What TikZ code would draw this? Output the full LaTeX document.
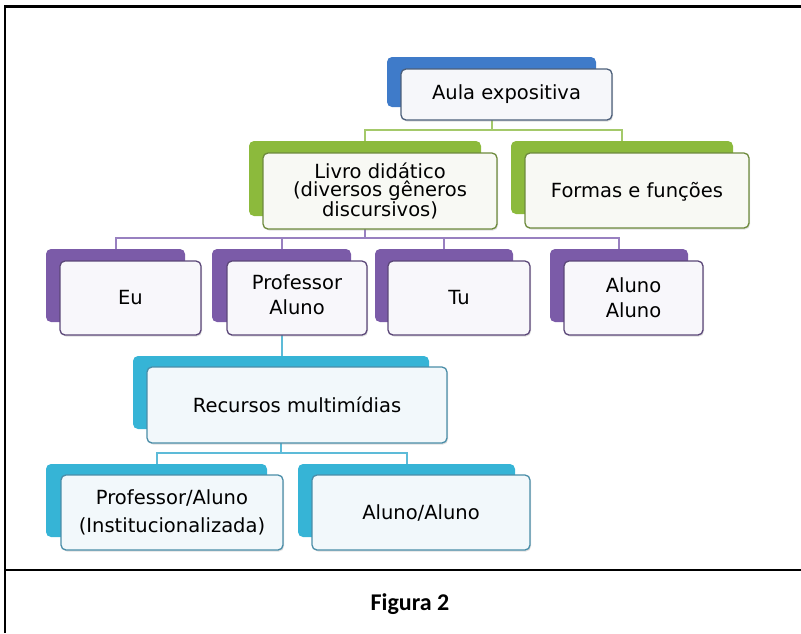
\documentclass[tikz,border=0pt]{standalone}
\usepackage{fontspec}
\setmainfont{DejaVu Sans}
\newfontfamily\capfont{Carlito}
\usetikzlibrary{fit,backgrounds,shadows}
\definecolor{blueback}{HTML}{3F7BC9}
\definecolor{blueline}{HTML}{4C5F7A}
\definecolor{bluefill}{HTML}{F6F7FA}
\definecolor{greenback}{HTML}{8CBA3C}
\definecolor{greenline}{HTML}{6D8A3C}
\definecolor{greenfill}{HTML}{F8F9F4}
\definecolor{greenconn}{HTML}{A4C96A}
\definecolor{purpleback}{HTML}{7B5BA8}
\definecolor{purpleline}{HTML}{5B4778}
\definecolor{purplefill}{HTML}{F8F7FB}
\definecolor{purpleconn}{HTML}{9880C0}
\definecolor{cyanback}{HTML}{36B4D6}
\definecolor{cyanline}{HTML}{4A8DA8}
\definecolor{cyanfill}{HTML}{F2F8FB}
\definecolor{cyanconn}{HTML}{5DBBD8}
\begin{document}
\begin{tikzpicture}[x=1pt,y=-1pt,
  backbox/.style={rounded corners=5pt, inner sep=0pt, fill=#1},
  frontbox/.style 2 args={rounded corners=5pt, inner sep=0pt, line width=1.3pt,
     draw=#1, fill=#2, drop shadow={opacity=0.25, shadow xshift=1pt, shadow yshift=-1.5pt}},
  txt/.style={font=\fontsize{19.5}{#1}\selectfont, align=center, inner sep=0pt, text=black},
  conn/.style={line width=2pt, draw=#1},
  frame/.style={line width=2.6pt, draw=black}]
\useasboundingbox (0,0) rectangle (801,633);
% frame
\coordinate (ftl) at (5,6.5);
\coordinate (fbl) at (5,633);
\coordinate (ftr) at (801,6.5);
\coordinate (fml) at (5,570);
\coordinate (fmr) at (801,570);
\draw[frame] (fbl) -- (ftl) -- (ftr);
\draw[frame] (fml) -- (fmr);
\node[font=\capfont\bfseries\fontsize{24}{24}\selectfont, inner sep=0pt] (cap) at (410,604) {Figura 2};

% level 0
\node[backbox=blueback, fit={(387,57) (596,107)}] (aula-b) {};
\node[frontbox={blueline}{bluefill}, fit={(401,69) (612,120)}] (aula) {};
\node[txt=19] (aula-t) at (aula.center) {Aula expositiva};
% level 1
\node[backbox=greenback, fit={(249,141) (481,216)}] (livro-b) {};
\node[frontbox={greenline}{greenfill}, fit={(263,153) (497,229)}] (livro) {};
\node[txt=18.5] (livro-t) at (livro.center) {Livro didático\\(diversos gêneros\\discursivos)};
\node[backbox=greenback, fit={(511,141) (733,214)}] (formas-b) {};
\node[frontbox={greenline}{greenfill}, fit={(525,153) (749,228)}] (formas) {};
\node[txt=19] (formas-t) at ([yshift=-1]formas.center) {Formas e funções};
% level 2
\node[backbox=purpleback, fit={(46,249) (185,322)}] (eu-b) {};
\node[frontbox={purpleline}{purplefill}, fit={(60,261) (201,335)}] (eu) {};
\node[txt=25] (eu-t) at (eu.center) {Eu};
\node[backbox=purpleback, fit={(212,249) (351,322)}] (prof-b) {};
\node[frontbox={purpleline}{purplefill}, fit={(227,261) (367,335)}] (prof) {};
\node[txt=25] (prof-t) at ([yshift=3]prof.center) {Professor\\Aluno};
\node[backbox=purpleback, fit={(375,249) (513,322)}] (tu-b) {};
\node[frontbox={purpleline}{purplefill}, fit={(388,261) (530,335)}] (tu) {};
\node[txt=25] (tu-t) at (tu.center) {Tu};
\node[backbox=purpleback, fit={(550,249) (688,322)}] (aluno-b) {};
\node[frontbox={purpleline}{purplefill}, fit={(564,261) (703,335)}] (aluno) {};
\node[txt=25] (aluno-t) at (aluno.center) {Aluno\\Aluno};
% level 3
\node[backbox=cyanback, fit={(133,356) (429,429)}] (rec-b) {};
\node[frontbox={cyanline}{cyanfill}, fit={(147,367) (447,443)}] (rec) {};
\node[txt=19] (rec-t) at (rec.center) {Recursos multimídias};
% level 4
\node[backbox=cyanback, fit={(46,464) (267,537)}] (pa-b) {};
\node[frontbox={cyanline}{cyanfill}, fit={(61,475) (283,550)}] (pa) {};
\node[txt=27.5] (pa-t) at (pa.center) {Professor/Aluno\\(Institucionalizada)};
\node[backbox=cyanback, fit={(298,464) (515,537)}] (aa-b) {};
\node[frontbox={cyanline}{cyanfill}, fit={(312,475) (530,550)}] (aa) {};
\node[txt=19] (aa-t) at (aa.center) {Aluno/Aluno};

% connectors
\coordinate (gbus) at (0,130);
\coordinate (pbus) at (0,238);
\coordinate (cbus) at (0,453);
\begin{pgfonlayer}{background}
\draw[conn=greenconn] (aula-b.center) -- (aula-b.center |- gbus) -| (livro-b.north);
\draw[conn=greenconn] (aula-b.center |- gbus) -| (formas-b.north);
\draw[conn=purpleconn] (livro-b.center) -- (livro-b.center |- pbus) -| (eu-b.north);
\draw[conn=purpleconn] (livro-b.center |- pbus) -| (prof-b.north);
\draw[conn=purpleconn] (livro-b.center |- pbus) -| (tu-b.north);
\draw[conn=purpleconn] (livro-b.center |- pbus) -| (aluno-b.north);
\draw[conn=cyanconn] (prof-b.center) -- (prof-b.center |- rec-b.north);
\draw[conn=cyanconn] (rec-b.center) -- (rec-b.center |- cbus) -| (pa-b.north);
\draw[conn=cyanconn] (rec-b.center |- cbus) -| (aa-b.north);
\end{pgfonlayer}
\end{tikzpicture}
\end{document}
